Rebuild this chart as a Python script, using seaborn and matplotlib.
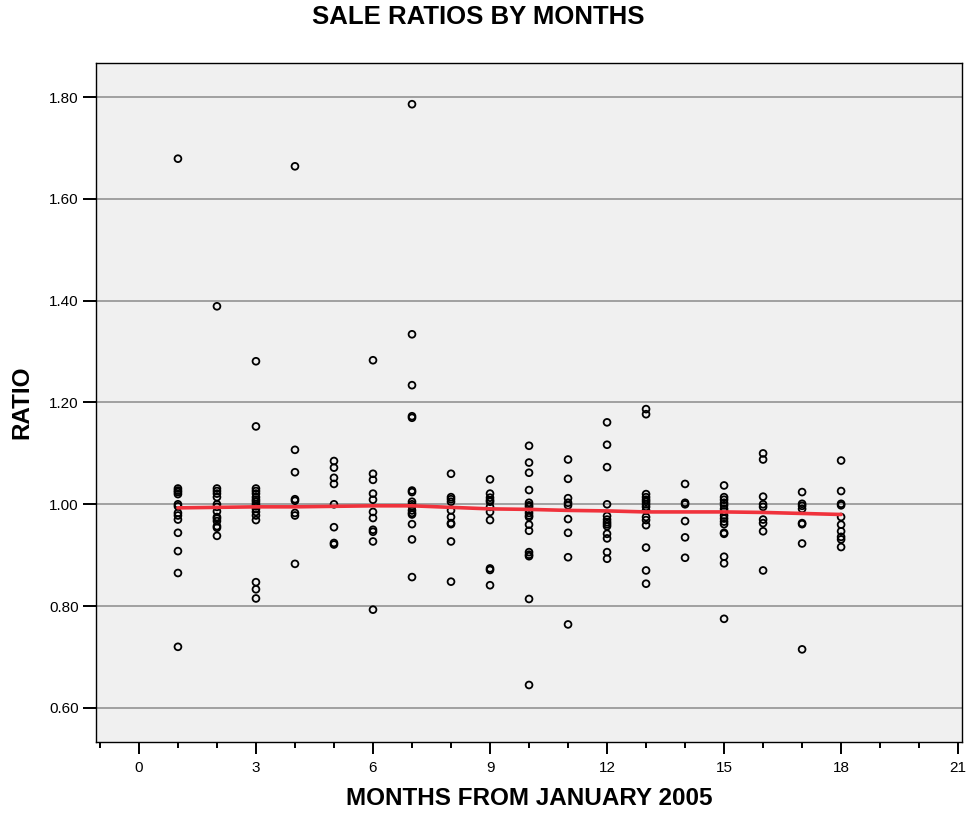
import pandas as pd
import matplotlib
matplotlib.use("Agg")
import matplotlib.pyplot as plt
import seaborn as sns
from matplotlib.ticker import MultipleLocator

# ratios, one list per month
m01 = [1.679, 1.031, 1.027, 1.024, 1.020, 1.000, 0.996, 0.983, 0.978, 0.970, 0.944, 0.908, 0.865, 0.720]
m02 = [1.389, 1.031, 1.026, 1.021, 1.014, 1.000, 0.995, 0.986, 0.975, 0.972, 0.967, 0.957, 0.954, 0.938]
m03 = [1.281, 1.153, 1.031, 1.026, 1.021, 1.014, 1.009, 1.005, 1.000, 0.996, 0.991, 0.985, 0.978, 0.969,
       0.847, 0.833, 0.815]
m04 = [1.664, 1.107, 1.063, 1.010, 1.007, 0.983, 0.978, 0.883]
m05 = [1.085, 1.072, 1.052, 1.040, 1.000, 0.955, 0.924, 0.921]
m06 = [1.283, 1.060, 1.048, 1.021, 1.009, 0.985, 0.973, 0.950, 0.946, 0.927, 0.793]
m07 = [1.786, 1.334, 1.234, 1.173, 1.170, 1.027, 1.024, 1.005, 1.000, 0.996, 0.988, 0.983, 0.980,
       0.961, 0.931, 0.857]
m08 = [1.060, 1.014, 1.010, 1.005, 0.988, 0.975, 0.963, 0.961, 0.927, 0.848]
m09 = [1.049, 1.021, 1.013, 1.008, 1.005, 0.995, 0.985, 0.969, 0.874, 0.871, 0.841]
m10 = [1.115, 1.082, 1.062, 1.028, 1.003, 0.998, 0.995, 0.988, 0.983, 0.978, 0.975, 0.960, 0.948,
       0.906, 0.901, 0.898, 0.814, 0.645]
m11 = [1.088, 1.050, 1.012, 1.003, 0.998, 0.971, 0.944, 0.896, 0.764]
m12 = [1.161, 1.117, 1.073, 1.000, 0.977, 0.970, 0.965, 0.961, 0.957, 0.942, 0.933, 0.906, 0.893]
m13 = [1.187, 1.177, 1.020, 1.014, 1.009, 1.005, 1.000, 0.995, 0.988, 0.975, 0.969, 0.959, 0.915,
       0.870, 0.844]
m14 = [1.040, 1.003, 1.000, 0.967, 0.935, 0.895]
m15 = [1.037, 1.014, 1.009, 1.003, 0.998, 0.991, 0.986, 0.978, 0.972, 0.966, 0.961, 0.944, 0.942,
       0.897, 0.884, 0.775]
m16 = [1.100, 1.088, 1.015, 1.000, 0.995, 0.970, 0.963, 0.947, 0.870]
m17 = [1.024, 1.001, 0.997, 0.991, 0.963, 0.961, 0.923, 0.715]
m18 = [1.086, 1.026, 1.001, 0.998, 0.975, 0.960, 0.947, 0.936, 0.931, 0.916]

# fitted (loess) line
fit_months = list(range(1, 19))
fit_ratio = [0.993, 0.994, 0.995, 0.995, 0.996, 0.997, 0.997, 0.994, 0.991,
             0.990, 0.988, 0.987, 0.985, 0.985, 0.985, 0.984, 0.982, 0.980]

by_month = [m01, m02, m03, m04, m05, m06, m07, m08, m09,
            m10, m11, m12, m13, m14, m15, m16, m17, m18]
rows = []
for month, vals in zip(fit_months, by_month):
    for v in vals:
        rows.append({"month": month, "ratio": v})
df = pd.DataFrame(rows)
fit_df = pd.DataFrame({"month": fit_months, "ratio": fit_ratio})

sns.set_style("white")
plt.rcParams["font.family"] = ["Liberation Sans", "DejaVu Sans"]
plt.rcParams["text.color"] = "black"
plt.rcParams["axes.labelcolor"] = "black"
plt.rcParams["xtick.color"] = "black"
plt.rcParams["ytick.color"] = "black"

fig = plt.figure(figsize=(9.69, 8.17), dpi=100)
ax = fig.add_axes([0.0991, 0.0918, 0.8937, 0.8311])
ax.set_facecolor("#F0F0F0")

ax.set_xlim(-1.1, 21.1)
ax.set_ylim(0.533, 1.867)
ax.set_yticks([0.6, 0.8, 1.0, 1.2, 1.4, 1.6, 1.8])
ax.set_yticklabels([f"{t:.2f}" for t in ax.get_yticks()])
ax.set_xticks(range(0, 22, 3))
ax.xaxis.set_minor_locator(MultipleLocator(1))
ax.yaxis.grid(True, color="#A0A0A0", linewidth=1.4)
ax.set_axisbelow(True)

sns.scatterplot(data=df, x="month", y="ratio", ax=ax, marker="o", s=24,
                facecolor="none", edgecolor="black", linewidth=1.3, zorder=3)
sns.lineplot(data=fit_df, x="month", y="ratio", ax=ax, color="#F0323C",
             linewidth=2.6, zorder=4)

for sp in ax.spines.values():
    sp.set_color("black")
    sp.set_linewidth(1.0)

ax.tick_params(axis="x", which="major", direction="out", length=8.6, width=1.4,
               labelsize=11, pad=5, bottom=True)
ax.tick_params(axis="x", which="minor", direction="out", length=4.3, width=1.4, bottom=True)
ax.tick_params(axis="y", which="major", direction="out", length=9.3, width=1.4,
               labelsize=11, pad=3, left=True)

ax.set_xlabel("MONTHS FROM JANUARY 2005", fontsize=17.5, fontweight="bold", labelpad=9)
ax.set_ylabel("RATIO", fontsize=17.5, fontweight="bold")
ax.yaxis.set_label_coords(-0.0727, 0.5)
fig.text(0.494, 0.979, "SALE RATIOS BY MONTHS", fontsize=18.5, fontweight="bold",
         ha="center", va="center")

fig.savefig("out.png", dpi=100)
